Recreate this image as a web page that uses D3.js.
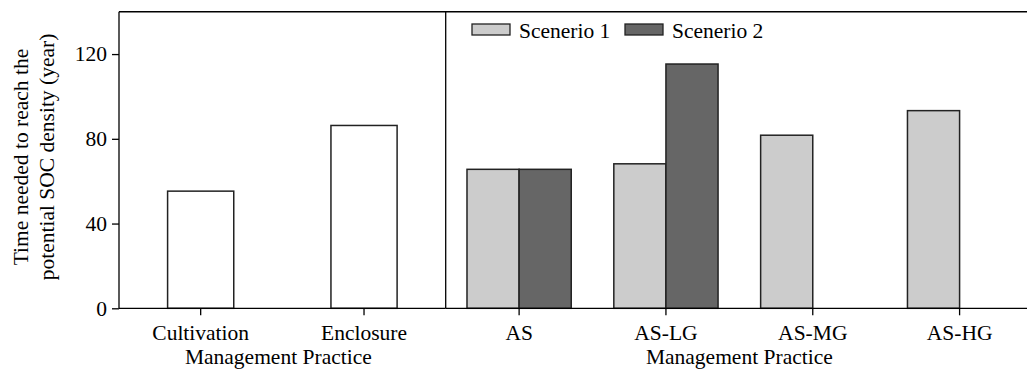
<!DOCTYPE html>
<html>
<head>
    <script src="https://d3js.org/d3.v7.min.js"></script>
    <style>
        body { margin: 0; background: #fff; }
        svg, .axis { font-family: "Liberation Serif", "Times New Roman", serif; }
        .axis text { font-size: 21.5px; fill: #000; }
        .axis path, .axis line { stroke: #000; stroke-width: 1.3px; }
        .bar { stroke: #222; stroke-width: 1.5px; }
    </style>
</head>
<body>
    <svg width="1027" height="370"></svg>

    <script>
        const width = 1027, height = 370;
        const svg = d3.select("svg");

        // data
        const leftCategories = ["Cultivation", "Enclosure"];
        const leftValues = [55.3, 86.3];
        const rightCategories = ["AS", "AS-LG", "AS-MG", "AS-HG"];
        const series = ["Scenerio 1", "Scenerio 2"];
        const scenario1 = [65.6, 68.2, 81.7, 93.3];
        const scenario2 = [65.6, 115.3, null, null];
        const yTicks = [0, 40, 80, 120];

        // layout
        const plotTop = 11.7, plotBottom = 308.3;
        const x0 = 119, xMid = 445.7, x1 = 1033;
        const fs = "21.5px";

        const y = d3.scaleLinear().domain([0, 140]).range([plotBottom, plotTop]);

        const xLeft = d3.scaleBand().domain(leftCategories)
            .range([x0, xMid]).paddingInner(0.595).paddingOuter(0.2975);
        const xRight = d3.scaleBand().domain(rightCategories)
            .range([xMid, x1]).paddingInner(0.29).paddingOuter(0.145);
        const xSub = d3.scaleBand().domain(series).range([0, xRight.bandwidth()]);
        const color = d3.scaleOrdinal().domain(series).range(["#cccccc", "#666666"]);

        // frame
        svg.append("line").attr("x1", x0).attr("x2", x1).attr("y1", plotTop).attr("y2", plotTop)
            .attr("stroke", "#000").attr("stroke-width", 1.5);
        svg.append("line").attr("x1", xMid).attr("x2", xMid).attr("y1", plotTop).attr("y2", plotBottom)
            .attr("stroke", "#000").attr("stroke-width", 1.3);
        svg.append("line").attr("x1", x1).attr("x2", x1).attr("y1", plotTop).attr("y2", plotBottom)
            .attr("stroke", "#000").attr("stroke-width", 1.3);

        // left bars
        svg.selectAll("rect.left")
            .data(leftCategories)
            .enter().append("rect")
            .attr("class", "bar left")
            .attr("x", d => xLeft(d))
            .attr("y", (d, i) => y(leftValues[i]))
            .attr("width", xLeft.bandwidth())
            .attr("height", (d, i) => plotBottom - y(leftValues[i]))
            .attr("fill", "#fff");

        // right grouped bars
        const rightData = [];
        rightCategories.forEach((c, i) => {
            [scenario1[i], scenario2[i]].forEach((v, j) => {
                if (v != null) rightData.push({ cat: c, s: series[j], v: v });
            });
        });
        svg.selectAll("rect.right")
            .data(rightData)
            .enter().append("rect")
            .attr("class", "bar right")
            .attr("x", d => xRight(d.cat) + xSub(d.s))
            .attr("y", d => y(d.v))
            .attr("width", xSub.bandwidth())
            .attr("height", d => plotBottom - y(d.v))
            .attr("fill", d => color(d.s));

        // axes
        svg.append("g").attr("class", "axis")
            .attr("transform", `translate(${x0},0)`)
            .call(d3.axisLeft(y).tickValues(yTicks).tickSize(7).tickPadding(5).tickSizeOuter(0))
            .call(g => g.select(".domain").attr("d", `M0,${plotBottom}V${plotTop}`));

        svg.append("g").attr("class", "axis")
            .attr("transform", `translate(0,${plotBottom})`)
            .call(d3.axisBottom(xLeft).tickSize(7).tickPadding(9).tickSizeOuter(0))
            .call(g => g.select(".domain").attr("d", `M${x0},0H${xMid}`));

        svg.append("g").attr("class", "axis")
            .attr("transform", `translate(0,${plotBottom})`)
            .call(d3.axisBottom(xRight).tickSize(7).tickPadding(9).tickSizeOuter(0))
            .call(g => g.select(".domain").attr("d", `M${xMid},0H${x1}`))
            .call(g => g.selectAll(".tick").attr("transform", d => `translate(${xRight(d) + xSub.bandwidth()},0)`));

        // axis titles
        svg.append("text").attr("x", (x0 + xMid) / 2 - 4).attr("y", 364)
            .attr("text-anchor", "middle").attr("font-size", fs).text("Management Practice");
        svg.append("text").attr("x", (xMid + x1) / 2).attr("y", 364)
            .attr("text-anchor", "middle").attr("font-size", fs).text("Management Practice");

        const yTitle = svg.append("text")
            .attr("transform", "translate(0,157) rotate(-90)")
            .attr("text-anchor", "middle").attr("font-size", fs);
        yTitle.append("tspan").attr("x", 0).attr("y", 28).text("Time needed to reach the");
        yTitle.append("tspan").attr("x", 0).attr("y", 54).text("potential SOC density (year)");

        // legend
        const legend = svg.append("g").attr("transform", "translate(472,24)");
        const lg = legend.selectAll("g").data(series).enter().append("g")
            .attr("transform", (d, i) => `translate(${i * 153},0)`);
        lg.append("rect").attr("width", 38).attr("height", 11)
            .attr("fill", d => color(d)).attr("stroke", "#222").attr("stroke-width", 1.3);
        lg.append("text").attr("x", 47).attr("y", 14).attr("font-size", fs).text(d => d);
    </script>
</body>
</html>
